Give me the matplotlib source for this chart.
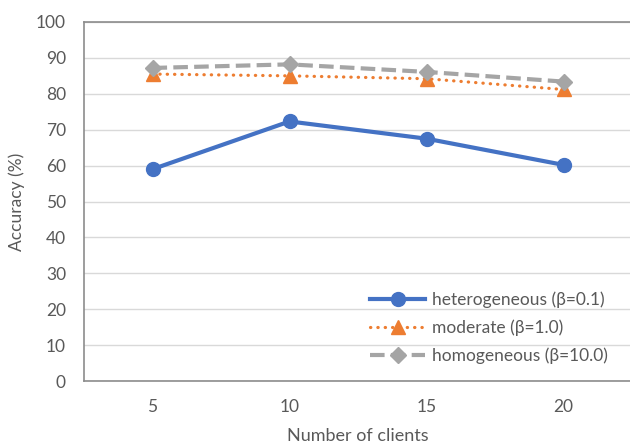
import matplotlib
matplotlib.use("Agg")
import matplotlib.pyplot as plt

clients = ["5", "10", "15", "20"]
heterogeneous = [59.0, 72.3, 67.5, 60.2]
moderate = [85.5, 85.0, 84.2, 81.2]
homogeneous = [87.2, 88.2, 86.1, 83.4]

plt.rcParams["font.family"] = ["Lato", "DejaVu Sans"]
txt = "#595959"

fig = plt.figure(figsize=(6.3, 4.46), dpi=100)
ax = fig.add_axes([84 / 630, 1 - 381 / 446, 548 / 630, 359 / 446])

x = range(len(clients))
ax.plot(x, heterogeneous, color="#4472C4", lw=3, marker="o", ms=10,
        label="heterogeneous (β=0.1)")
ax.plot(x, moderate, color="#ED7D31", lw=2.3, ls=(0, (0.1, 2.2)),
        dash_capstyle="round", marker="^", ms=10, label="moderate (β=1.0)")
ax.plot(x, homogeneous, color="#A5A5A5", lw=3, ls=(0, (3.5, 1.5)),
        marker="D", ms=8, label="homogeneous (β=10.0)")

ax.set_xlim(-0.5, 3.5)
ax.set_ylim(0, 100)
ax.set_yticks(range(0, 101, 10))
ax.set_xticks(list(x))
ax.set_xticklabels(clients)
ax.grid(axis="y", color="#d9d9d9", lw=1)
ax.set_axisbelow(True)
for s in ["left", "top", "bottom"]:
    ax.spines[s].set_color("#8c8c8c")
    ax.spines[s].set_linewidth(1.2)
ax.spines["right"].set_visible(False)
ax.tick_params(length=0, labelsize=12.5, colors=txt)
ax.tick_params(axis="y", pad=13)
ax.tick_params(axis="x", pad=13)

ax.set_ylabel("Accuracy (%)", fontsize=12.5, color=txt, labelpad=8)
ax.set_xlabel("Number of clients", fontsize=13, color=txt, labelpad=9)

leg = ax.legend(loc="lower right", bbox_to_anchor=(0.985, 0.005), frameon=False,
                fontsize=12.5, handlelength=3.2, handletextpad=0.4,
                labelspacing=0.65, labelcolor=txt)

fig.savefig("out.png", dpi=100)
